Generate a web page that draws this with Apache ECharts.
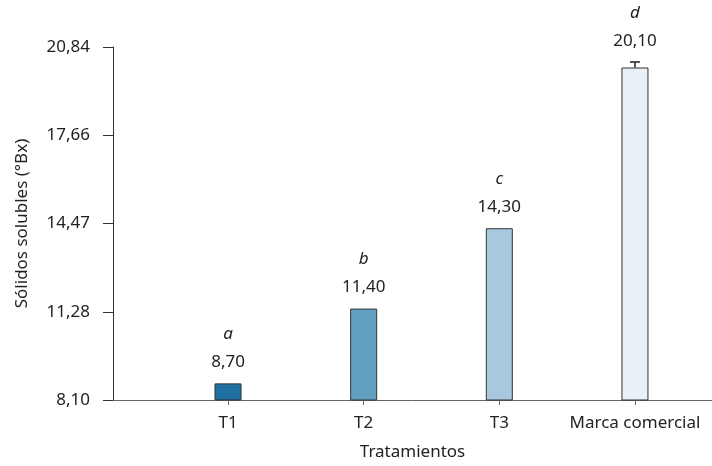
<!DOCTYPE html>
<html>
<head>
<meta charset="utf-8">
<script src="https://cdn.jsdelivr.net/npm/echarts@6/dist/echarts.min.js"></script>
<style>html,body{margin:0;padding:0;background:#fff;width:100%;height:100%;overflow:hidden;}#c{width:100%;height:100%;}</style>
</head>
<body>
<div id="c"></div>
<script>
var categories = ['T1', 'T2', 'T3', 'Marca comercial'];
var values = [8.70, 11.40, 14.30, 20.10];
var errors = [0, 0, 0, 0.2];
var letters = ['a', 'b', 'c', 'd'];
var yTicks = [8.10, 11.28, 14.47, 17.66, 20.84];
var barColors = ['#1f70a0', '#62a0c0', '#a8c9dd', '#e9f1f8'];

function fmt(v) { return v.toFixed(2).replace('.', ','); }

var font = 'Noto Sans';
var fs = 17;
var chart = echarts.init(document.getElementById('c'));
chart.setOption({
  animation: false,
  backgroundColor: '#fff',
  grid: { left: 113, right: 0, top: 47, bottom: 62, containLabel: false },
  xAxis: {
    type: 'value',
    min: -0.848,
    max: 3.568,
    name: 'Tratamientos',
    nameLocation: 'middle',
    nameGap: 44,
    nameTextStyle: { fontFamily: font, fontSize: fs, color: '#222' },
    axisLine: { show: true, onZero: false, lineStyle: { color: '#666', width: 1 } },
    axisTick: { show: true, customValues: [0, 1, 2, 3], length: 5, lineStyle: { color: '#666' } },
    axisLabel: {
      customValues: [0, 1, 2, 3],
      formatter: function (v) { return categories[Math.round(v)]; },
      fontFamily: font, fontSize: fs, color: '#222', margin: 15
    },
    splitLine: { show: false }
  },
  yAxis: {
    type: 'value',
    min: 8.10,
    max: 20.84,
    name: 'Sólidos solubles (°Bx)',
    nameLocation: 'middle',
    nameGap: 82,
    nameTextStyle: { fontFamily: font, fontSize: fs, color: '#222' },
    axisLine: { show: true, onZero: false, lineStyle: { color: '#333', width: 1 } },
    axisTick: { show: true, customValues: yTicks, length: 10, lineStyle: { color: '#333' } },
    axisLabel: {
      customValues: yTicks,
      formatter: function (v) { return fmt(v); },
      fontFamily: font, fontSize: fs, color: '#222', margin: 23
    },
    splitLine: { show: false }
  },
  series: [
    {
      type: 'bar',
      barWidth: 27,
      data: values.map(function (v, i) {
        return { value: [i, v], itemStyle: { color: barColors[i], borderColor: '#333', borderWidth: 1 } };
      }),
      z: 2
    },
    {
      type: 'custom',
      z: 3,
      data: values.map(function (v, i) { return [i, v, errors[i]]; }),
      renderItem: function (params, api) {
        var i = params.dataIndex;
        var x = api.value(0), y = api.value(1), e = api.value(2);
        var base = api.coord([x, y]);
        var top = api.coord([x, y + e]);
        var children = [];
        if (e > 0) {
          children.push({ type: 'line', shape: { x1: base[0], y1: base[1], x2: top[0], y2: top[1] }, style: { stroke: '#222', lineWidth: 1.5 } });
          children.push({ type: 'line', shape: { x1: top[0] - 5, y1: top[1], x2: top[0] + 5, y2: top[1] }, style: { stroke: '#222', lineWidth: 1.5 } });
        }
        children.push({ type: 'text', style: { x: top[0], y: top[1] - 21, text: fmt(values[i]), align: 'center', verticalAlign: 'middle', fontFamily: font, fontSize: fs, fill: '#222' } });
        children.push({ type: 'text', style: { x: top[0], y: top[1] - 49, text: letters[i], align: 'center', verticalAlign: 'middle', fontFamily: font, fontSize: fs, fontStyle: 'italic', fill: '#222' } });
        return { type: 'group', children: children };
      }
    }
  ]
});
</script>
</body>
</html>
